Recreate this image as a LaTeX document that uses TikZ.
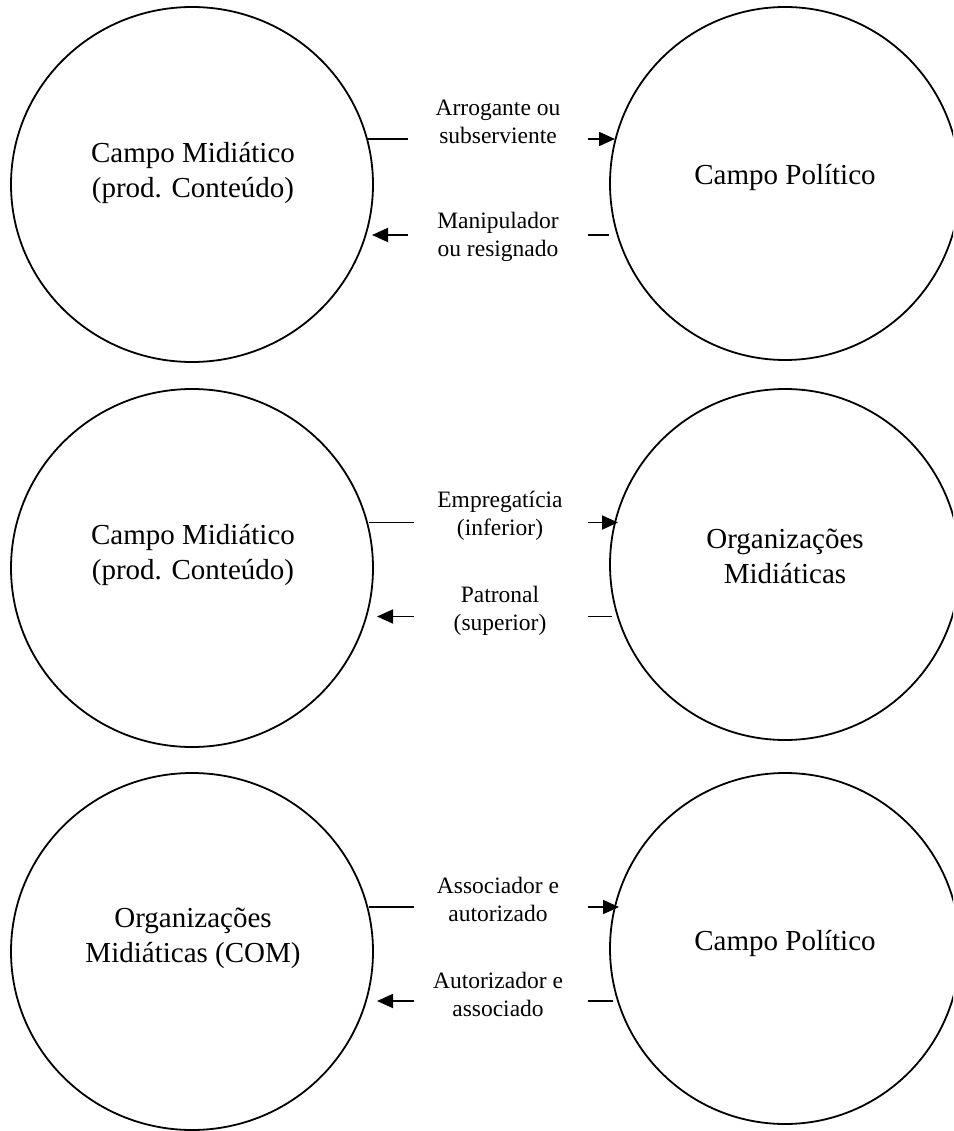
\documentclass[tikz,border=0pt]{standalone}
\usepackage{fontspec}
\setmainfont{Liberation Serif}
\usetikzlibrary{shapes.geometric,arrows.meta}
\begin{document}
\begin{tikzpicture}[x=1pt,y=-1pt,
  field/.style={draw, ellipse, line width=1.8pt, inner sep=0pt},
  bigtext/.style={font=\fontsize{29}{35}\selectfont, align=center, inner sep=0pt},
  smalltext/.style={font=\fontsize{23.5}{28}\selectfont, align=center, inner sep=0pt},
  link/.style={line width=1.8pt},
  arr/.style={line width=1.8pt, -{Triangle[length=16pt,width=14pt]}},
]
\useasboundingbox (0,0) rectangle (953,1131);
\clip (0,0) rectangle (953,1131);

% ---------- row 1 ----------
\node[field, minimum width=362pt, minimum height=355pt] (L1) at (192,184.5) {};
\node[field, minimum width=350pt, minimum height=353pt] (R1) at (785,183.5) {};
\node[bigtext] (tL1) at (193,173.5) {Campo Midiático\\(prod. Conteúdo)};
\node[bigtext] (tR1) at (785,178) {Campo Político};
\node[smalltext] (u1) at (498,122) {Arrogante ou\\subserviente};
\node[smalltext] (d1) at (498,237) {Manipulador\\ou resignado};
\coordinate (u1a) at (367,139); \coordinate (u1b) at (408,139);
\coordinate (u1c) at (588,139); \coordinate (u1d) at (615,139);
\coordinate (d1a) at (609,235); \coordinate (d1b) at (588,235);
\coordinate (d1c) at (408,235); \coordinate (d1d) at (372,235);
\draw[link] (u1a) -- (u1b);
\draw[arr] (u1c) -- (u1d);
\draw[link] (d1a) -- (d1b);
\draw[arr] (d1c) -- (d1d);

% ---------- row 2 ----------
\node[field, minimum width=362pt, minimum height=358pt] (L2) at (192,568) {};
\node[field, minimum width=350pt, minimum height=351pt] (R2) at (785,564.5) {};
\node[bigtext] (tL2) at (193,555) {Campo Midiático\\(prod. Conteúdo)};
\node[bigtext] (tR2) at (785,556) {Organizações\\Midiáticas};
\node[smalltext] (u2) at (500,516) {Empregatícia\\(inferior)};
\node[smalltext] (d2) at (500,611) {Patronal\\(superior)};
\coordinate (u2a) at (369,522.5); \coordinate (u2b) at (414,522.5);
\coordinate (u2c) at (588,522.5); \coordinate (u2d) at (618,522.5);
\coordinate (d2a) at (612,616.5); \coordinate (d2b) at (588,616.5);
\coordinate (d2c) at (414,616.5); \coordinate (d2d) at (377,616.5);
\draw[link] (u2a) -- (u2b);
\draw[arr] (u2c) -- (u2d);
\draw[link] (d2a) -- (d2b);
\draw[arr] (d2c) -- (d2d);

% ---------- row 3 ----------
\node[field, minimum width=362pt, minimum height=357pt] (L3) at (192,951.5) {};
\node[field, minimum width=350pt, minimum height=351pt] (R3) at (785,948.5) {};
\node[bigtext] (tL3) at (193,938) {Organizações\\Midiáticas (COM)};
\node[bigtext] (tR3) at (785,943) {Campo Político};
\node[smalltext] (u3) at (498,899) {Associador e\\autorizado};
\node[smalltext] (d3) at (498,994) {Autorizador e\\associado};
\coordinate (u3a) at (369,907); \coordinate (u3b) at (414,907);
\coordinate (u3c) at (588,907); \coordinate (u3d) at (619,907);
\coordinate (d3a) at (613,1001); \coordinate (d3b) at (588,1001);
\coordinate (d3c) at (414,1001); \coordinate (d3d) at (377,1001);
\draw[link] (u3a) -- (u3b);
\draw[arr] (u3c) -- (u3d);
\draw[link] (d3a) -- (d3b);
\draw[arr] (d3c) -- (d3d);
\end{tikzpicture}
\end{document}
